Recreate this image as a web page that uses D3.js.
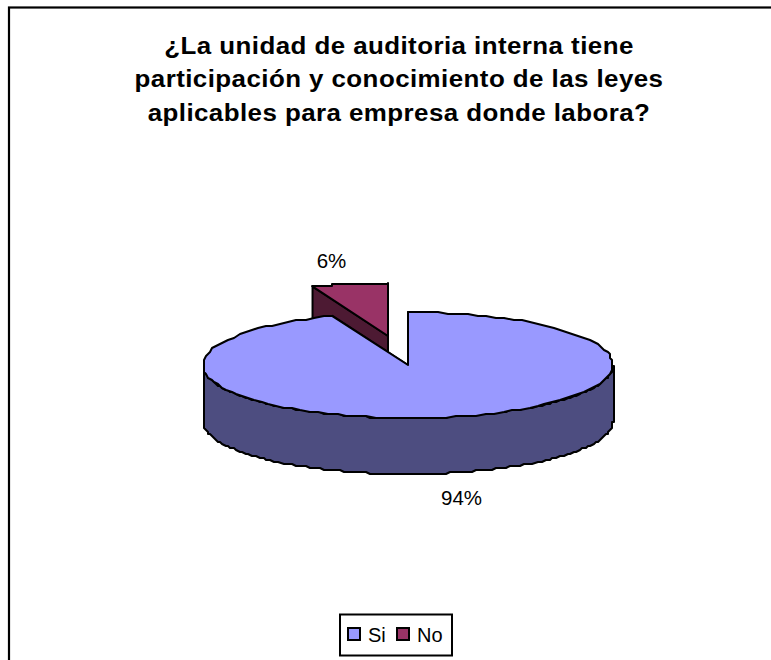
<!DOCTYPE html>
<html>
<head>
<meta charset="utf-8">
<script src="https://cdnjs.cloudflare.com/ajax/libs/d3/7.8.5/d3.min.js"></script>
<style>
html, body { margin: 0; padding: 0; background: #fff; overflow: hidden; }
text { font-family: "Liberation Sans", Arial, sans-serif; fill: #000; }
</style>
</head>
<body>
<script>
const categories = ["Si", "No"];
const values = [94, 6];
const fills = ["#9999FF", "#993366"];
const sideFills = ["#4D4D80", "#4D1A33"];
const titleLines = [
  "¿La unidad de auditoria interna tiene",
  "participación y conocimiento de las leyes",
  "aplicables para empresa donde labora?"
];

const width = 771, height = 660;
const rx = 205, ry = 53, depth = 56;
const center = { x: 408, y: 365 };
const explode = { x: -20, y: -29 };
const grid = 2; // coarse plotter grid that gives the rim its stepped outline

const svg = d3.select("body").append("svg")
  .attr("width", width).attr("height", height)
  .style("display", "block");

// Chart frame runs off the right and bottom of the page
svg.append("rect")
  .attr("x", 9).attr("y", 7.5).attr("width", 820).attr("height", 720)
  .attr("fill", "#fff").attr("stroke", "#000").attr("stroke-width", 2.2);

// Title type is slightly widened
const title = svg.append("text")
  .attr("text-anchor", "middle")
  .attr("font-weight", "bold")
  .attr("font-size", 24)
  .attr("letter-spacing", 0.4)
  .attr("transform", "translate(399,0) scale(1.08,1)");
const titleBaselines = d3.scaleLinear().domain([0, 2]).range([54, 121]);
title.selectAll("tspan").data(titleLines).join("tspan")
  .attr("x", 0)
  .attr("y", (d, i) => titleBaselines(i))
  .text(d => d);

const slices = d3.pie().sort(null).value(d => d)(values);

const snap = v => Math.round(v / grid) * grid;
const rim = (a, cx, cy) => [snap(cx + rx * Math.sin(a)), snap(cy - ry * Math.cos(a))];
const angles = (a0, a1) => d3.range(0, 121).map(i => a0 + (a1 - a0) * i / 120);
const line = d3.line();

function drawSlice(s, i) {
  const cx = center.x + (i === 1 ? explode.x : 0);
  const cy = center.y + (i === 1 ? explode.y : 0);
  const g = svg.append("g")
    .attr("stroke", "#000").attr("stroke-width", 2).attr("stroke-linejoin", "round");

  // Cut faces of the wedge, extruded downward
  [s.startAngle, s.endAngle].forEach(a => {
    const p = [cx + rx * Math.sin(a), cy - ry * Math.cos(a)];
    g.append("path").attr("fill", sideFills[i])
      .attr("d", line([[cx, cy], p, [p[0], p[1] + depth], [cx, cy + depth]]) + "Z");
  });

  // Outer wall: only the part of the rim that faces the viewer
  const a0 = Math.max(s.startAngle, Math.PI / 2);
  const a1 = Math.min(s.endAngle, Math.PI * 1.5);
  if (a1 > a0) {
    const top = angles(a0, a1).map(a => rim(a, cx, cy));
    const bottom = top.map(p => [p[0], p[1] + depth]).reverse();
    g.append("path").attr("fill", sideFills[i]).attr("d", line(top.concat(bottom)) + "Z");
  }

  // Top face
  const topFace = [[cx, cy]].concat(angles(s.startAngle, s.endAngle).map(a => rim(a, cx, cy)));
  g.append("path").attr("fill", fills[i]).attr("d", line(topFace) + "Z");
}

// The detached wedge sits behind the main slice
drawSlice(slices[1], 1);
drawSlice(slices[0], 0);

const labels = svg.append("g").attr("font-size", 20.5).attr("text-anchor", "middle");
labels.append("text").attr("x", 331.5).attr("y", 268).text(values[1] + "%");
labels.append("text").attr("x", 461.5).attr("y", 505).text(values[0] + "%");

// Legend
const legend = svg.append("g");
legend.append("rect")
  .attr("x", 340).attr("y", 614.5).attr("width", 112).attr("height", 41)
  .attr("fill", "#fff").attr("stroke", "#000").attr("stroke-width", 2);
const legendX = d3.scaleOrdinal().domain(categories).range([348, 397]);
categories.forEach((c, i) => {
  legend.append("rect")
    .attr("x", legendX(c)).attr("y", 628).attr("width", 12).attr("height", 12)
    .attr("fill", fills[i]).attr("stroke", "#000").attr("stroke-width", 2);
  legend.append("text")
    .attr("x", legendX(c) + 20).attr("y", 642)
    .attr("font-size", 20).text(c);
});
</script>
</body>
</html>
